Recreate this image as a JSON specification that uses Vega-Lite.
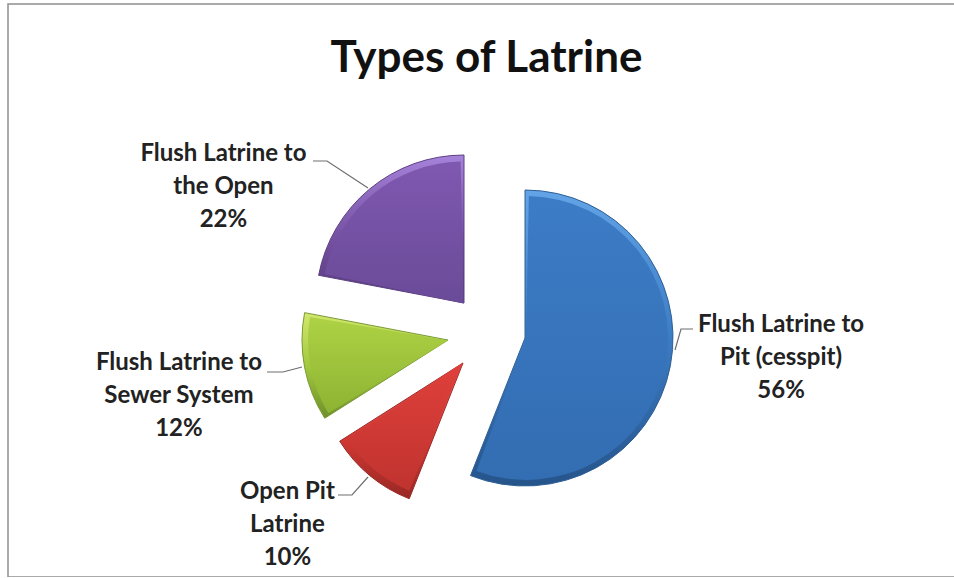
{
  "$schema": "https://vega.github.io/schema/vega-lite/v6.json",
  "width": 947,
  "height": 573,
  "padding": {"left": 8, "top": 4, "right": 0, "bottom": 0},
  "autosize": "none",
  "background": "white",
  "view": {"stroke": "#8f8f8f", "strokeWidth": 1.5, "fill": "white"},
  "title": {
    "text": "Types of Latrine",
    "font": "Lato",
    "fontWeight": "bold",
    "fontSize": 44,
    "color": "#111111",
    "anchor": "middle",
    "baseline": "middle",
    "offset": -99,
    "dx": 5
  },
  "datasets": {
    "latrines": [
      {"name": "Flush Latrine to|Pit (cesspit)", "short": "pit", "share": 56},
      {"name": "Open Pit|Latrine", "short": "open pit", "share": 10},
      {"name": "Flush Latrine to|Sewer System", "short": "sewer", "share": 12},
      {"name": "Flush Latrine to|the Open", "short": "open", "share": 22}
    ],
    "leaders": [
      {"short": "pit", "step": 1, "px": 693, "py": 329},
      {"short": "pit", "step": 2, "px": 681, "py": 329},
      {"short": "pit", "step": 3, "px": 675, "py": 350},
      {"short": "open pit", "step": 1, "px": 338, "py": 495},
      {"short": "open pit", "step": 2, "px": 352, "py": 495},
      {"short": "open pit", "step": 3, "px": 368, "py": 477},
      {"short": "sewer", "step": 1, "px": 267, "py": 372},
      {"short": "sewer", "step": 2, "px": 283, "py": 372},
      {"short": "sewer", "step": 3, "px": 302, "py": 367},
      {"short": "open", "step": 1, "px": 313, "py": 161},
      {"short": "open", "step": 2, "px": 327, "py": 161},
      {"short": "open", "step": 3, "px": 368, "py": 188}
    ]
  },
  "data": {"name": "latrines"},
  "transform": [
    {"stack": "share", "groupby": [], "as": ["start", "end"]},
    {"calculate": "(datum.start + datum.end) / 2", "as": "mid"},
    {"calculate": "datum.name + '|' + datum.share + '%'", "as": "caption"}
  ],
  "encoding": {
    "theta": {"field": "start", "type": "quantitative", "scale": {"domain": [0, 100], "range": [0, 6.283185]}},
    "theta2": {"field": "end"}
  },
  "layer": [
    {
      "data": {"name": "leaders"},
      "transform": [],
      "mark": {"type": "line", "color": "#6e6e6e", "strokeWidth": 1.2},
      "encoding": {
        "theta": null,
        "theta2": null,
        "x": {"field": "px", "type": "quantitative", "axis": null, "scale": {"domain": [8, 955], "nice": false, "zero": false}},
        "y": {"field": "py", "type": "quantitative", "axis": null, "scale": {"domain": [577, 4], "nice": false, "zero": false}},
        "detail": {"field": "short"},
        "order": {"field": "step"}
      }
    },
    {
      "transform": [{"filter": "datum.short == 'pit'"}],
      "layer": [
        {"mark": {"type": "arc", "xOffset": 43.5, "yOffset": 47.5, "stroke": "#2f5f95", "strokeWidth": 1,
          "fill": {"gradient": "linear", "x1": 0, "y1": 0, "x2": 0, "y2": 1, "stops": [{"offset": 0, "color": "#62a4e6"}, {"offset": 0.5, "color": "#3c7cc4"}, {"offset": 1, "color": "#25548a"}]}},
          "encoding": {"radius": {"value": 148}}},
        {"mark": {"type": "arc", "xOffset": 44.5, "yOffset": 47.5, "padAngle": 0.04,
          "fill": {"gradient": "linear", "x1": 0, "y1": 0, "x2": 0, "y2": 1, "stops": [{"offset": 0, "color": "#3c7cc6"}, {"offset": 1, "color": "#336db2"}]}},
          "encoding": {"radius": {"value": 142}}},
        {"mark": {"type": "text", "font": "Lato", "fontWeight": "bold", "fontSize": 24, "color": "#222222", "lineBreak": "|", "lineHeight": 33, "align": "center", "baseline": "middle", "xOffset": 63.8, "yOffset": -10.4},
          "encoding": {"theta": {"field": "mid", "type": "quantitative"}, "theta2": null, "radius": {"value": 240}, "text": {"field": "caption"}}}
      ]
    },
    {
      "transform": [{"filter": "datum.short == 'open pit'"}],
      "layer": [
        {"mark": {"type": "arc", "xOffset": -18.5, "yOffset": 72.5, "stroke": "#9a2a28", "strokeWidth": 1,
          "fill": {"gradient": "linear", "x1": 0, "y1": 0, "x2": 0, "y2": 1, "stops": [{"offset": 0, "color": "#ee5e58"}, {"offset": 0.5, "color": "#d93a36"}, {"offset": 1, "color": "#982824"}]}},
          "encoding": {"radius": {"value": 146}}},
        {"mark": {"type": "arc", "xOffset": -18.5, "yOffset": 72, "padAngle": 0.04,
          "fill": {"gradient": "linear", "x1": 0, "y1": 0, "x2": 0, "y2": 1, "stops": [{"offset": 0, "color": "#e0403b"}, {"offset": 1, "color": "#c0332f"}]}},
          "encoding": {"radius": {"value": 139}}},
        {"mark": {"type": "text", "font": "Lato", "fontWeight": "bold", "fontSize": 24, "color": "#222222", "lineBreak": "|", "lineHeight": 33, "align": "center", "baseline": "middle", "xOffset": -41.1, "yOffset": 16.7},
          "encoding": {"theta": {"field": "mid", "type": "quantitative"}, "theta2": null, "radius": {"value": 240}, "text": {"field": "caption"}}}
      ]
    },
    {
      "transform": [{"filter": "datum.short == 'sewer'"}],
      "layer": [
        {"mark": {"type": "arc", "xOffset": -33.5, "yOffset": 49.5, "stroke": "#7a9a35", "strokeWidth": 1,
          "fill": {"gradient": "linear", "x1": 0, "y1": 0, "x2": 0, "y2": 1, "stops": [{"offset": 0, "color": "#d2e76e"}, {"offset": 0.5, "color": "#a2c93e"}, {"offset": 1, "color": "#6f8f2a"}]}},
          "encoding": {"radius": {"value": 146}}},
        {"mark": {"type": "arc", "xOffset": -33.5, "yOffset": 50, "padAngle": 0.04,
          "fill": {"gradient": "linear", "x1": 0, "y1": 0, "x2": 0, "y2": 1, "stops": [{"offset": 0, "color": "#aed244"}, {"offset": 1, "color": "#8db333"}]}},
          "encoding": {"radius": {"value": 140}}},
        {"mark": {"type": "text", "font": "Lato", "fontWeight": "bold", "fontSize": 24, "color": "#222222", "lineBreak": "|", "lineHeight": 33, "align": "center", "baseline": "middle", "xOffset": -66.8, "yOffset": 27.6},
          "encoding": {"theta": {"field": "mid", "type": "quantitative"}, "theta2": null, "radius": {"value": 240}, "text": {"field": "caption"}}}
      ]
    },
    {
      "transform": [{"filter": "datum.short == 'open'"}],
      "layer": [
        {"mark": {"type": "arc", "xOffset": -17.5, "yOffset": 12.5, "stroke": "#5c3f82", "strokeWidth": 1,
          "fill": {"gradient": "linear", "x1": 0, "y1": 0, "x2": 0, "y2": 1, "stops": [{"offset": 0, "color": "#a683da"}, {"offset": 0.5, "color": "#7a55a8"}, {"offset": 1, "color": "#543879"}]}},
          "encoding": {"radius": {"value": 148}}},
        {"mark": {"type": "arc", "xOffset": -18, "yOffset": 13, "padAngle": 0.04,
          "fill": {"gradient": "linear", "x1": 0, "y1": 0, "x2": 0, "y2": 1, "stops": [{"offset": 0, "color": "#7f58b0"}, {"offset": 1, "color": "#6a4b98"}]}},
          "encoding": {"radius": {"value": 142}}},
        {"mark": {"type": "text", "font": "Lato", "fontWeight": "bold", "fontSize": 24, "color": "#222222", "lineBreak": "|", "lineHeight": 33, "align": "center", "baseline": "middle", "xOffset": -105.1, "yOffset": 48.3},
          "encoding": {"theta": {"field": "mid", "type": "quantitative"}, "theta2": null, "radius": {"value": 240}, "text": {"field": "caption"}}}
      ]
    }
  ]
}
